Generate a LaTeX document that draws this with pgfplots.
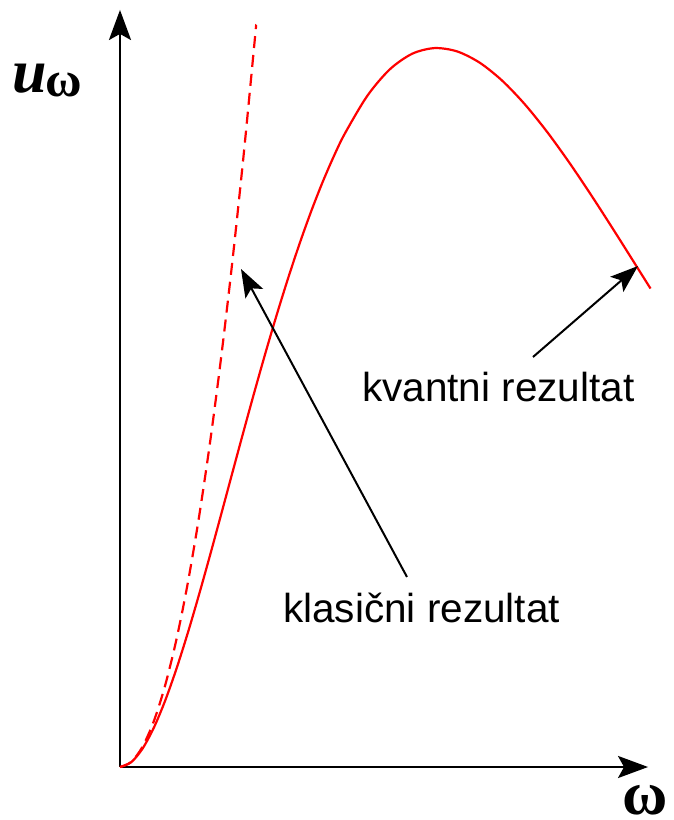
\documentclass[border=0pt]{standalone}
\usepackage{pgfplots}
\pgfplotsset{compat=1.18}
\usetikzlibrary{arrows.meta}
\usepackage{fontspec}
\setmainfont{Liberation Sans}
\newfontfamily\serif{Liberation Serif}

% Planck spectrum u(x) = x^3/(e^x - 1), x = hbar*omega/kT
\pgfplotstableread{
x     u
0     0
0.1   0.009508
0.2   0.036133
0.3   0.077174
0.4   0.130127
0.5   0.192686
0.6   0.262736
0.7   0.338348
0.8   0.417775
0.9   0.499451
1.0   0.581977
1.1   0.664117
1.2   0.744790
1.3   0.823067
1.4   0.898141
1.5   0.969357
1.6   1.036168
1.7   1.098135
1.8   1.154952
1.9   1.206319
2.0   1.252141
2.2   1.326852
2.4   1.379207
2.6   1.410181
2.8   1.421336
3.0   1.414695
3.2   1.392476
3.4   1.356986
3.6   1.310627
3.8   1.255618
4.0   1.194071
4.2   1.127904
4.4   1.058835
4.6   0.988338
4.72  0.945902
}\planck

% Rayleigh-Jeans limit u(x) = x^2
\pgfplotstableread{
x     u
0     0
0.1   0.01
0.2   0.04
0.3   0.09
0.4   0.16
0.5   0.25
0.6   0.36
0.7   0.49
0.8   0.64
0.9   0.81
1.0   1.00
1.1   1.21
1.2   1.44
1.21  1.4641
}\rayleigh

\begin{document}
\begin{tikzpicture}[x=1pt,y=1pt]
\useasboundingbox (-120,-53) rectangle (553,767);
\begin{axis}[
  at={(0,0)}, anchor=south west,
  x=112.4pt, y=505.8pt,
  xmin=0, xmax=4.698, ymin=0, ymax=1.4967,
  axis lines=left,
  axis line style={line width=2.5pt, -{Stealth[length=30pt,width=22pt,inset=6pt]}},
  xtick=\empty, ytick=\empty,
  clip=false,
]
\addplot[red, line width=2.2pt, smooth] table[x=x,y=u] {\planck};
\addplot[red, line width=2.2pt, smooth, dash pattern=on 12pt off 7pt] table[x=x,y=u] {\rayleigh};
\end{axis}

% annotations
\draw[line width=2pt, -{Stealth[length=28pt,width=20pt,inset=6pt]}] (287,190) -- (121,498);
\draw[line width=2pt, -{Stealth[length=28pt,width=20pt,inset=6pt]}] (413,410) -- (518,501);
\node[anchor=base west, inner sep=0pt, font=\fontsize{40.5}{46}\selectfont] at (163,144) {klasični rezultat};
\node[anchor=base west, inner sep=0pt, font=\fontsize{40.5}{46}\selectfont] at (242,365) {kvantni rezultat};

% axis labels
\node[anchor=base west, inner sep=0pt, font=\fontsize{62}{70}\selectfont\serif\bfseries\itshape] at (-108,674) {u};
\node[anchor=base west, inner sep=0pt, font=\fontsize{50}{56}\selectfont\serif\bfseries] at (-75,670) {ω};
\node[anchor=base west, inner sep=0pt, font=\fontsize{62}{70}\selectfont\serif\bfseries] at (502,-47) {ω};
\end{tikzpicture}
\end{document}
